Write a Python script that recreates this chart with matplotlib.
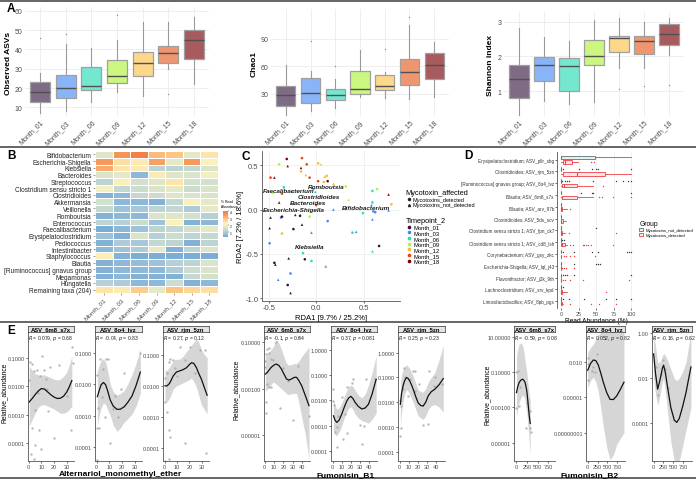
import numpy as np
import matplotlib
matplotlib.use("Agg")
import matplotlib.pyplot as plt
from matplotlib.colors import LinearSegmentedColormap
from matplotlib.lines import Line2D
from matplotlib.patches import Patch

plt.rcParams['font.family'] = ['Liberation Sans', 'DejaVu Sans']
plt.rcParams['axes.unicode_minus'] = False

W, H = 696, 481
TICK_C = '#4d4d4d'

months = ['Month_01', 'Month_03', 'Month_06', 'Month_09', 'Month_12', 'Month_15', 'Month_18']
box_colors = ['#7e6b84', '#8ab4f8', '#74e8cf', '#cbf680', '#fdd78a', '#ee9670', '#a85b5e']
pt_colors = ['#30123b', '#4686fb', '#1ae4b6', '#a2fc3c', '#faba39', '#e4460a', '#7a0403']

# ---- A: alpha diversity box stats ----
obs_lo = [7, 8, 13, 18, 16, 30, 22]
obs_q1 = [13, 15, 19, 22.5, 26.5, 33, 35]
obs_med = [18, 20, 21, 26, 33, 38, 45]
obs_q3 = [23, 27, 31, 34.5, 38.5, 42, 50]
obs_hi = [28, 43, 41, 45, 54, 54, 57]
obs_out = [[46], [48], [], [58], [], [17], []]

chao_lo = [7.5, 11, 15, 27, 25.6, 24, 27]
chao_q1 = [17, 20, 23, 30, 34, 40, 46]
chao_med = [28.5, 31, 28.5, 35.5, 38.5, 54, 61]
chao_q3 = [39, 47, 35, 55, 50, 67.5, 74]
chao_hi = [61, 55, 46, 78, 54, 105, 86]
chao_out = [[], [87], [60], [], [78.5], [113], []]

shan_lo = [0.3, 0.72, 0.62, 0.67, 1.67, 1.67, 2.05]
shan_q1 = [0.81, 1.28, 1.0, 1.76, 2.12, 2.08, 2.34]
shan_med = [1.35, 1.76, 1.71, 2.02, 2.52, 2.43, 2.65]
shan_q3 = [1.76, 1.98, 1.96, 2.48, 2.6, 2.58, 2.92]
shan_hi = [2.82, 2.55, 2.45, 3.05, 3.12, 3.0, 3.1]
shan_out = [[], [], [], [], [1.05], [1.15], [1.17]]

# ---- B: heatmap (colour level, log-like % read abundance) ----
taxa = ['Bifidobacterium', 'Escherichia-Shigella', 'Klebsiella', 'Bacteroides', 'Streptococcus',
        'Clostridium sensu stricto 1', 'Clostridioides', 'Akkermansia', 'Veillonella', 'Romboutsia',
        'Enterococcus', 'Faecalibacterium', 'Erysipelatoclostridium', 'Pediococcus', 'Intestinibacter',
        'Staphylococcus', 'Blautia', '[Ruminococcus] gnavus group', 'Megamonas', 'Hungatella',
        'Remaining taxa (204)']
heat = [
    [1.7, 3.5, 3.9, 3.0, 2.9, 1.8, 2.4],
    [3.4, 2.5, 2.3, 3.3, 1.8, 3.4, 2.1],
    [3.2, 2.4, 2.3, 1.2, 1.2, 1.3, 1.6],
    [1.6, 1.8, 0.6, 2.3, 1.7, 1.6, 2.0],
    [1.2, 2.2, 1.5, 1.7, 2.4, 1.5, 1.5],
    [2.0, 1.3, 1.4, 1.6, 1.8, 1.4, 1.6],
    [0.5, 0.6, 1.3, 1.4, 1.7, 1.6, 1.6],
    [1.5, 0.6, 0.6, 0.5, 1.3, 2.1, 1.8],
    [1.3, 0.8, 0.9, 1.2, 1.3, 1.0, 1.8],
    [0.5, 0.6, 0.6, 1.6, 1.7, 1.5, 1.1],
    [1.2, 1.1, 1.4, 0.8, 2.1, 0.5, 0.6],
    [0.4, 0.6, 0.8, 1.2, 1.3, 1.5, 1.8],
    [0.8, 0.5, 1.6, 1.1, 1.4, 1.2, 1.3],
    [0.5, 1.0, 0.9, 1.3, 1.2, 0.5, 1.2],
    [0.6, 0.8, 1.0, 1.8, 0.5, 1.2, 1.6],
    [2.2, 0.5, 0.4, 0.4, 0.4, 0.4, 0.4],
    [0.5, 0.6, 0.7, 0.8, 1.1, 1.2, 1.6],
    [0.5, 0.6, 0.6, 0.6, 1.0, 1.4, 1.6],
    [0.5, 0.6, 0.5, 0.5, 0.5, 1.3, 1.5],
    [1.1, 1.0, 0.6, 0.6, 1.4, 0.5, 0.6],
    [2.4, 2.3, 2.8, 1.8, 2.9, 2.6, 2.5],
]

# ---- C: RDA ordination ----
rda1 = [-0.39, -0.31, -0.30, -0.15, -0.10, -0.16, -0.16, -0.11, -0.07, 0.02, 0.05, -0.48, -0.44, -0.34,
        -0.36, -0.46, 0.02, 0.12, 0.09, 0.11, 0.08, 0.18, -0.03, -0.01, 0.05, 0.00, -0.39, 0.31, 0.34,
        0.59, 0.64, 0.76, 0.79, 0.76, 0.59, 0.58, 0.60, 0.49, 0.59, 0.62, 0.18, 0.12, -0.48, -0.37,
        -0.36, -0.49, -0.24, -0.15, -0.07, -0.17, -0.22, -0.36, -0.05, 0.38, 0.42, 0.66, -0.49, 0.59,
        -0.14, -0.29, -0.12, -0.05, 0.10, -0.44, -0.43, -0.27, -0.40, -0.30, -0.27, -0.25]
rda2 = [0.51, 0.57, 0.49, 0.58, 0.51, 0.47, 0.43, 0.39, 0.36, 0.52, 0.51, 0.36, 0.36, 0.25, 0.18, 0.19,
        0.32, 0.32, 0.37, 0.38, 0.31, 0.29, 0.23, 0.20, 0.15, 0.05, 0.08, 0.26, 0.11, 0.21, 0.23, 0.17,
        0.06, -0.01, 0.08, 0.05, -0.02, -0.04, -0.11, -0.03, 0.00, -0.13, -0.09, -0.09, -0.08, -0.21,
        -0.22, -0.17, -0.08, -0.07, -0.06, -0.27, -0.26, -0.26, -0.25, -0.41, -0.38, -0.47, -0.49,
        -0.55, -0.56, -0.58, -0.64, -0.60, -0.62, -0.72, -0.79, -0.85, -0.94, 0.20]
rda_month = [3, 6, 6, 5, 5, 6, 4, 4, 5, 4, 3, 5, 6, 2, 5, 3, 5, 6, 4, 4, 4, 4, 2, 2, 4, 5, 6, 3, 3,
             2, 3, 6, 4, 1, 2, 1, 1, 2, 1, 1, 1, 1, 0, 1, 0, 0, 0, 0, 3, 0, 0, 4, 1, 2, 1, 0, 1, 2,
             2, 0, 0, 2, 1, 0, 0, 1, 1, 0, 0, 2]
rda_detected = [1, 1, 0, 1, 1, 0, 1, 0, 1, 1, 0, 1, 0, 1, 1, 0, 1, 1, 0, 1, 1, 0, 1, 0, 1, 1, 0, 1, 0,
                1, 1, 0, 1, 0, 1, 0, 1, 1, 0, 1, 0, 1, 0, 1, 1, 0, 1, 0, 1, 1, 0, 1, 0, 1, 0, 1, 1, 0,
                1, 0, 1, 1, 0, 1, 0, 1, 0, 1, 0, 1]
genus_lab = ['Faecalibacterium', 'Romboutsia', 'Clostridioides', 'Bacteroides', 'Escherichia-Shigella',
             'Bifidobacterium', 'Klebsiella']
genus_x = [-0.56, -0.09, -0.20, -0.28, -0.56, 0.27, -0.22]
genus_y = [0.22, 0.255, 0.145, 0.085, 0.0, 0.02, -0.42]

# ---- D: read abundance per ASV ----
asv_labels = ['Erysipelatoclostridium; ASV_pllr_sbg', 'Clostridioides; ASV_rjm_5zn',
              '[Ruminococcus] gnavus group; ASV_8o4_lvz', 'Blautia; ASV_6m8_s7x', 'Blautia; ASV_arv_97b',
              'Clostridioides; ASV_5ds_scv', 'Clostridium sensu stricto 1; ASV_fpn_ck7',
              'Clostridium sensu stricto 1; ASV_cd8_lsh', 'Corynebacterium; ASV_gsy_zkc',
              'Escherichia-Shigella; ASV_lql_j43', 'Flavonifractor; ASV_j2k_9th',
              'Lachnoclostridium; ASV_srv_kpd', 'Limosilactobacillus; ASV_8pb_pgs']
nd_q1 = [0, 0, 0, 0, 0, 0, 0, 0, 0, 0, 0, 0, 0]
nd_med = [0.5, 0, 0, 0, 0, 0, 0, 0, 0, 0, 0, 0, 0]
nd_q3 = [48, 0, 0, 0, 0, 0, 0, 0, 0, 0, 0, 0, 0]
nd_hi = [100, 0, 0, 0, 0, 0, 0, 0, 0, 0, 0, 0, 0]
nd_out = [[], [3, 25, 44, 50, 52, 100], [2, 5, 8, 12, 45, 78, 88, 95, 100], [28, 44, 45, 100], [], [],
          [50], [2, 4], [3, 19, 44, 53, 93, 96, 99], [19, 50, 53, 55], [3, 5, 8, 19, 100], [3],
          [3, 12, 33, 64, 78, 99]]
det_q1 = [3, 3, 1, 1, 0, 0, 0, 0, 0, 0, 0, 0, 0]
det_med = [6, 23, 4, 2, 0.5, 0.5, 0, 1, 0, 0, 0, 0, 0]
det_q3 = [16, 62, 22, 22, 1, 3, 1, 5, 0, 0, 0, 1, 2]
det_hi = [24, 100, 45, 45, 9, 7, 5, 9, 0, 0, 0, 8, 3]
det_out = [[42, 47], [], [60], [54, 58, 74, 100], [13], [], [12, 78], [13, 17, 31, 33, 36, 39, 42, 74],
           [4, 7, 13, 19, 48], [2, 4, 7, 19], [3, 6, 13, 31, 96], [64], [13, 42, 54, 78]]

# ---- E: correlations (y stored as log10 relative abundance) ----
e_asv = ['ASV_6m8_s7x', 'ASV_8o4_lvz', 'ASV_rjm_5zn'] * 3
e_r = ['0.079', '-0.04', '0.27', '-0.1', '0.37', '0.25', '-0.59', '0.052', '-0.16']
e_p = ['0.68', '0.83', '0.12', '0.64', '0.081', '0.23', '0.08', '0.82', '0.62']
e_toxin = ['Alternariol_monomethyl_ether', 'Fumonisin_B1', 'Fumonisin_B2']

e1_px = [1.3, 2.6, 3.9, 6.5, 10.4, 11.7, 9.1, 13.8, 17, 14.3, 7, 4.7, 2.6, 7.8, 5.2, 1.8, 3.9, 15.6, 9.6, 20.3, 30, 33.1, 33.9, 35, 24.2, 0]
e1_py = [-1.16, -1.2, -1.45, -1.44, -0.95, -1.42, -1.65, -1.74, -1.33, -2.11, -2.23, -2.82, -3.46, -3.54, -4.05, -4.4, -4.57, -2.88, -4.22, -3.82, -2.35, -3.54, -0.63, -1.19, -1.25, -1.77]
e1_fx = [0.5, 3, 5, 7.5, 10, 12.5, 15, 17.5, 20, 22.5, 25, 27.5, 30, 32, 34]
e1_fy = [-2.55, -2.42, -2.3, -2.17, -2.08, -2.1, -2.2, -2.3, -2.38, -2.43, -2.42, -2.35, -2.2, -2.02, -1.8]
e1_up = [-1.3, -1.45, -1.55, -1.6, -1.6, -1.6, -1.65, -1.7, -1.75, -1.78, -1.75, -1.65, -1.5, -1.25, -0.95]
e1_dn = [-3.4, -3.15, -2.95, -2.75, -2.65, -2.65, -2.7, -2.75, -2.8, -2.88, -2.95, -2.95, -2.9, -2.82, -2.7]

e2_px = [0.5, 2.9, 5.3, 7.4, 9.2, 4, 1.4, 0.1, 2, 0.5, 6.6, 10.6, 14.6, 16.4, 19, 21.7, 34.4, 13.2]
e2_py = [-1.7, -1.2, -1.53, -1.21, -1.21, -2.4, -2.75, -3.38, -3.4, -4.4, -3.06, -3.88, -2.38, -3.03, -2.16, -1.66, -1.03, -2.8]
e2_fx = [0.5, 2, 3.5, 5.3, 7, 8.5, 10.6, 13, 15.9, 18.5, 21.7, 24.5, 27.8, 31, 34.4]
e2_fy = [-2.4, -2.2, -2.02, -1.95, -2.02, -2.2, -2.5, -2.7, -2.8, -2.8, -2.72, -2.58, -2.38, -2.05, -1.62]
e2_up = [-1.6, -1.4, -1.25, -1.2, -1.3, -1.55, -2.0, -2.25, -2.35, -2.3, -2.2, -2.0, -1.7, -1.35, -0.9]
e2_dn = [-3.3, -3.0, -2.75, -2.6, -2.65, -2.8, -3.0, -3.3, -3.5, -3.4, -3.2, -3.1, -2.95, -2.7, -2.3]

e3_px = [0, 1.9, 3.2, 4.4, 7, 8.4, 9.7, 12.3, 16.3, 20.3, 24.3, 28.3, 32.3, 0.5, 1.9, 3.2, 4, 0.5, 3.2, 16.3, 33.6]
e3_py = [-1.74, -1.6, -1.24, -1.13, -1.19, -1.42, -1.68, -0.77, -1.19, -0.77, -1.6, -0.86, -0.86, -2.5, -2.82, -3.4, -3.62, -4.4, -4.35, -3.82, -4.15]
e3_fx = [0.3, 2, 4, 7, 9.5, 12.3, 15, 17.7, 20, 21.7, 23.5, 25.7, 27.5, 29.7, 32, 34.3]
e3_fy = [-2.0, -2.0, -1.92, -1.68, -1.56, -1.52, -1.48, -1.42, -1.32, -1.26, -1.28, -1.42, -1.6, -1.79, -2.05, -2.3]
e3_up = [-1.5, -1.5, -1.4, -1.2, -1.15, -1.15, -1.05, -0.9, -0.8, -0.7, -0.6, -0.5, -0.6, -0.85, -1.0, -1.1]
e3_dn = [-2.5, -2.5, -2.4, -2.1, -2.0, -1.95, -1.9, -1.85, -1.8, -1.75, -1.85, -2.05, -2.3, -2.6, -2.75, -2.9]

e4_px = [0.8, 1.4, 2.3, 4.1, 4.1, 6.5, 9.1, 12.7, 0.8, 2.3, 4.1, 6.5, 1.4, 1.4, 17, 19.2, 25.4, 30.8, 36.2, 37.3, 47.8]
e4_py = [-1.79, -1.5, -1.3, -1.22, -1.44, -1.73, -1.76, -1.0, -2.07, -2.79, -2.93, -2.93, -3.58, -4.03, -3.83, -2.1, -2.67, -4.34, -2.03, -0.78, -4.17]
e4_fx = [0.7, 3, 5, 7, 9.1, 11, 12.7, 15.5, 18.1, 21, 23.5, 26, 29, 32, 34.4, 37, 39.9, 44, 47.8]
e4_fy = [-2.36, -2.28, -2.17, -2.07, -2.0, -1.95, -1.93, -2.0, -2.15, -2.38, -2.57, -2.62, -2.57, -2.5, -2.5, -2.65, -2.86, -3.3, -3.72]
e4_up = [-1.6, -1.5, -1.4, -1.3, -1.2, -1.0, -0.9, -1.05, -1.3, -1.65, -1.9, -1.98, -1.95, -1.9, -1.9, -1.8, -1.6, -1.4, -1.2]
e4_dn = [-3.1, -3.0, -2.9, -2.8, -2.7, -2.75, -2.8, -2.9, -3.0, -3.1, -3.2, -3.25, -3.2, -3.2, -3.2, -3.6, -4.2, -5.0, -6.0]

e5_px = [0, 0.8, 1.4, 2.5, 4.4, 5.1, 6.2, 9.9, 11.7, 13.5, 16.1, 15.4, 20.9, 22.7, 30, 31.8, 34.7, 36.6, 46.5]
e5_py = [-1.53, -2.01, -2.2, -3.27, -3.07, -3.86, -2.61, -1.88, -3.53, -2.54, -3.29, -1.46, -1.32, -1.16, -2.98, -3.73, -3.0, -1.16, -1.16]
e5_fx = [0.8, 2.5, 4.4, 7, 9.9, 12.5, 15.4, 17.5, 19.8, 22, 24.5, 28, 31.8, 35.5, 39.1, 43, 47.5]
e5_fy = [-2.61, -2.78, -2.87, -2.78, -2.54, -2.28, -2.02, -1.9, -1.84, -1.92, -2.08, -2.24, -2.34, -2.3, -2.15, -1.75, -1.16]
e5_up = [-2.0, -2.2, -2.35, -2.3, -2.1, -1.85, -1.6, -1.45, -1.4, -1.45, -1.6, -1.8, -1.9, -1.75, -1.4, -0.9, -0.24]
e5_dn = [-3.2, -3.35, -3.4, -3.25, -3.0, -2.7, -2.45, -2.3, -2.25, -2.35, -2.55, -2.7, -2.8, -2.85, -2.9, -2.75, -2.5]

e6_px = [0, 1, 1.8, 0.7, 3.6, 4.4, 5.5, 9.2, 11, 14.7, 16.5, 16.5, 21.2, 24.9, 31.1, 32.2, 37.4, 45.8, 38.1]
e6_py = [-1.9, -2.15, -3.05, -3.38, -1.48, -0.61, -0.97, -1.75, -1.08, -0.75, -0.75, -1.56, -1.29, -2.91, -2.88, -0.75, -1.36, -1.29, -0.99]
e6_fx = [0.7, 2, 3.6, 5.5, 7.3, 9, 11, 12.8, 14.7, 17.5, 20.1, 23, 25.6, 28.5, 31.1, 34.5, 38.4, 43, 47.6]
e6_fy = [-2.09, -1.65, -1.35, -1.12, -1.01, -1.04, -1.15, -1.3, -1.48, -1.78, -2.03, -2.14, -2.16, -2.0, -1.75, -1.58, -1.48, -1.3, -1.05]
e6_up = [-1.2, -0.9, -0.7, -0.57, -0.5, -0.55, -0.65, -0.8, -0.95, -1.25, -1.5, -1.58, -1.6, -1.45, -1.2, -1.0, -0.8, -0.3, 0.3]
e6_dn = [-3.0, -2.4, -2.0, -1.65, -1.5, -1.55, -1.7, -1.85, -2.0, -2.3, -2.55, -2.65, -2.7, -2.55, -2.3, -2.15, -2.1, -2.2, -2.4]

e7_px = [0, 40, 82, 65, 0, 245, 310, 229, 327, 343]
e7_py = [-1.0, -0.94, -1.87, -2.93, -3.03, -2.74, -3.22, -4.19, -4.19, -4.39]
e7_fx = [0, 30, 65, 105, 147, 180, 204, 225, 245, 265, 286, 305, 327]
e7_fy = [-2.16, -1.82, -1.58, -1.45, -1.4, -1.48, -1.58, -1.8, -2.06, -2.5, -3.03, -3.5, -3.9]
e7_up = [-0.1, 0.3, 0.6, 0.65, 0.5, 0.1, -0.4, -0.7, -1.0, -1.45, -1.9, -2.3, -2.6]
e7_dn = [-3.5, -3.1, -2.7, -2.45, -2.3, -2.4, -2.6, -2.95, -3.3, -3.8, -4.4, -5.0, -5.7]

e8_px = [0, 17, 101, 142, 227, 17, 185]
e8_py = [-1.67, -3.54, -2.75, -2.46, -1.3, -2.17, -2.9]
e8_fx = [0, 70, 142, 205, 269, 330, 395, 480, 564, 650, 733, 825, 918]
e8_fy = [-2.72, -2.15, -1.85, -1.9, -2.28, -2.95, -3.73, -4.6, -5.18, -5.2, -4.9, -4.35, -3.73]
e8_up = [-1.2, -0.8, -0.5, -0.1, 0.3, 0.5, 0.5, 0.5, 0.5, 0.5, 0.5, 0.5, 0.5]
e8_dn = [-4.2, -3.6, -3.3, -3.7, -4.5, -5.9, -7.5, -9.2, -10.3, -9.9, -9.0, -8.5, -8.0]

e9_px = [51, 110, 187, 229, 289, 357]
e9_py = [-1.52, -2.73, -1.82, -1.21, -1.59, -2.42]
e9_fx = [0, 50, 102, 145, 187, 225, 255, 300, 357, 440, 527, 590, 654, 740, 824, 890, 952]
e9_fy = [-0.92, -1.8, -2.48, -2.2, -1.88, -1.55, -1.42, -1.75, -2.41, -3.3, -3.85, -3.95, -3.78, -3.25, -2.65, -2.05, -1.5]
e9_up = [0.05, -0.6, -1.3, -1.3, -1.2, -1.0, -0.9, -1.0, -1.2, -1.6, -2.0, -2.1, -2.0, -1.7, -1.3, -0.6, 0.05]
e9_dn = [-2.0, -2.7, -3.2, -2.9, -2.5, -2.15, -2.0, -2.6, -3.5, -4.8, -5.66, -5.66, -5.66, -5.0, -4.3, -3.8, -3.3]


def rect(x0, y0, x1, y1):
    return [x0 / W, 1 - y1 / H, (x1 - x0) / W, (y1 - y0) / H]


def ftext(x, y, s, **kw):
    fig.text(x / W, 1 - y / H, s, **kw)


def alpha_box(ax, lo, q1, med, q3, hi, out, ylim, yticks, ylabel):
    stats = []
    for i in range(len(months)):
        stats.append(dict(whislo=lo[i], q1=q1[i], med=med[i], q3=q3[i], whishi=hi[i], fliers=out[i]))
    bp = ax.bxp(stats, positions=range(7), widths=0.78, patch_artist=True, showcaps=False,
                boxprops=dict(edgecolor='#a0a0a0', linewidth=0.9),
                whiskerprops=dict(color='#9a9a9a', linewidth=0.8),
                medianprops=dict(color='#505050', linewidth=1.0),
                flierprops=dict(marker='o', markersize=1.0, markerfacecolor='#8a8a8a', markeredgecolor='none'))
    for patch, c in zip(bp['boxes'], box_colors):
        patch.set_facecolor(c)
    ax.set_xlim(-0.6, 6.6)
    ax.set_ylim(*ylim)
    ax.set_yticks(yticks)
    ax.set_xticks(range(7))
    ax.set_xticklabels(months, rotation=45, ha='right', rotation_mode='anchor', fontsize=5, color=TICK_C)
    ax.tick_params(axis='y', labelsize=5, labelcolor=TICK_C, length=0, pad=2)
    ax.tick_params(axis='x', length=0, pad=1)
    ax.set_ylabel(ylabel, fontsize=6, fontweight='bold', labelpad=2)
    ax.grid(True, color='#ebebeb', linewidth=0.6)
    ax.set_axisbelow(True)
    for s in ax.spines.values():
        s.set_visible(False)


fig = plt.figure(figsize=(W / 100, H / 100), dpi=100)

# ---------------- A ----------------
axA1 = fig.add_axes(rect(25, 8, 209, 118))
alpha_box(axA1, obs_lo, obs_q1, obs_med, obs_q3, obs_hi, obs_out, (5, 62), [10, 20, 30, 40, 50, 60], 'Observed ASVs')
axA2 = fig.add_axes(rect(271, 10, 449, 118))
alpha_box(axA2, chao_lo, chao_q1, chao_med, chao_q3, chao_hi, chao_out, (5, 122), [30, 60, 90], 'Chao1')
axA3 = fig.add_axes(rect(504, 13, 684, 118))
alpha_box(axA3, shan_lo, shan_q1, shan_med, shan_q3, shan_hi, shan_out, (0.25, 3.28), [1, 2, 3], 'Shannon index')

# ---------------- B ----------------
heat_cmap = LinearSegmentedColormap.from_list('heat', ['#74a9d4', '#a9c8da', '#d5e2cb', '#fcf3bd',
                                                       '#fcd08f', '#f59a5e', '#f07d43'])
axB = fig.add_axes(rect(95, 152, 218, 294))
mesh = axB.pcolormesh(np.array(heat), cmap=heat_cmap, vmin=0.3, vmax=4.0, edgecolors='white', linewidth=0.4)
axB.set_xlim(0, 7)
axB.set_ylim(len(taxa), 0)
axB.set_yticks(np.arange(len(taxa)) + 0.5)
axB.set_yticklabels(taxa, fontsize=4.7, color='#222222')
axB.set_xticks(np.arange(7) + 0.5)
axB.set_xticklabels(months, rotation=45, ha='right', rotation_mode='anchor', fontsize=4.6, color=TICK_C)
axB.tick_params(length=1.5, width=0.4, pad=1, color='#555555')
for s in axB.spines.values():
    s.set_visible(False)
cax = fig.add_axes(rect(223, 212, 228, 238))
cb = fig.colorbar(mesh, cax=cax)
cb.outline.set_visible(False)
cb.set_ticks([1, 2, 3, 4])
cb.set_ticklabels(['1', '2', '3', '4'])
cax.tick_params(labelsize=2.3, length=0.8, width=0.3, pad=0.3)
ftext(221, 209, '% Read\nAbundance', fontsize=2.4, va='bottom')

# ---------------- C ----------------
axC = fig.add_axes(rect(262, 152, 400, 302))
rda1 = np.array(rda1)
rda2 = np.array(rda2)
rda_month = np.array(rda_month)
rda_detected = np.array(rda_detected)
for flag, mk in [(1, 'o'), (0, '^')]:
    sel = rda_detected == flag
    axC.scatter(rda1[sel], rda2[sel], c=[pt_colors[m] for m in rda_month[sel]], s=3.5, marker=mk,
                linewidths=0, zorder=3)
for name, gx, gy in zip(genus_lab, genus_x, genus_y):
    axC.text(gx, gy, name, fontsize=4.6, fontweight='bold', fontstyle='italic', va='center', ha='left',
             color='#1a1a1a', zorder=4)
axC.set_xlim(-0.57, 0.88)
axC.set_ylim(-1.03, 0.66)
axC.set_xticks([-0.5, 0.0, 0.5])
axC.set_yticks([-1.0, -0.5, 0.0, 0.5])
axC.tick_params(labelsize=5.5, labelcolor=TICK_C, length=1.5, width=0.4, pad=1)
axC.set_xlabel('RDA1 [9.7% / 25.2%]', fontsize=5.5, labelpad=1.5)
axC.set_ylabel('RDA2 [7.2% / 18.6%]', fontsize=5.5, labelpad=1)
axC.grid(True, color='#ececec', linewidth=0.5)
axC.set_axisbelow(True)
axC.spines['top'].set_visible(False)
axC.spines['right'].set_visible(False)
for s in ['left', 'bottom']:
    axC.spines[s].set_color('#555555')
    axC.spines[s].set_linewidth(0.6)

myco_handles = [Line2D([], [], marker='o', linestyle='none', color='#222222', markersize=1.5),
                Line2D([], [], marker='^', linestyle='none', color='#222222', markersize=1.5)]
fig.legend(myco_handles, ['Mycotoxins_detected', 'Mycotoxins_not_detected'], title='Mycotoxin_affected',
           loc='upper left', bbox_to_anchor=(403 / W, 1 - 187 / H), frameon=False, fontsize=4.0,
           title_fontsize=5.3, labelspacing=0.15, handletextpad=0.3, borderpad=0, handlelength=1.0,
           alignment='left')
time_handles = [Line2D([], [], marker='o', linestyle='none', color=c, markersize=1.6) for c in pt_colors]
fig.legend(time_handles, months, title='Timepoint_2', loc='upper left',
           bbox_to_anchor=(403 / W, 1 - 215 / H), frameon=False, fontsize=4.2, title_fontsize=5.3,
           labelspacing=0.1, handletextpad=0.3, borderpad=0, handlelength=1.0, alignment='left')

# ---------------- D ----------------
axD = fig.add_axes(rect(557, 153, 635, 309))
pos = np.arange(1, len(asv_labels) + 1)
nd_stats, det_stats = [], []
for i in range(len(asv_labels)):
    nd_stats.append(dict(whislo=0, q1=nd_q1[i], med=nd_med[i], q3=nd_q3[i], whishi=nd_hi[i], fliers=nd_out[i]))
    det_stats.append(dict(whislo=0, q1=det_q1[i], med=det_med[i], q3=det_q3[i], whishi=det_hi[i], fliers=det_out[i]))
nd_col, det_col = '#5b7676', '#ef3f45'
axD.bxp(nd_stats, positions=pos - 0.2, widths=0.3, orientation='horizontal', patch_artist=True,
        showcaps=False, boxprops=dict(facecolor='#e9eeee', edgecolor=nd_col, linewidth=0.6),
        whiskerprops=dict(color=nd_col, linewidth=0.6), medianprops=dict(color=nd_col, linewidth=0.8),
        flierprops=dict(marker='o', markersize=1.0, markerfacecolor='#2f3b3b', markeredgecolor='none'))
axD.bxp(det_stats, positions=pos + 0.2, widths=0.3, orientation='horizontal', patch_artist=True,
        showcaps=False, boxprops=dict(facecolor='#fde8e8', edgecolor=det_col, linewidth=0.6),
        whiskerprops=dict(color=det_col, linewidth=0.6), medianprops=dict(color=det_col, linewidth=0.8),
        flierprops=dict(marker='o', markersize=1.0, markerfacecolor=det_col, markeredgecolor='none'))
axD.set_ylim(13.57, 0.35)
axD.set_xlim(-5.7, 105)
axD.set_yticks(pos)
axD.set_yticklabels(asv_labels, fontsize=3.3, color='#333333')
axD.set_xticks([0, 25, 50, 75, 100])
axD.set_xticklabels(['0', '25', '50', '75', '100'])
axD.tick_params(axis='x', labelsize=4.0, labelcolor=TICK_C, length=1.2, width=0.4, pad=1)
axD.tick_params(axis='y', length=1.2, width=0.4, pad=1)
axD.set_xlabel('Read Abundance (%)', fontsize=4.8, labelpad=1)
axD.grid(True, axis='x', color='#ebebeb', linewidth=0.5)
axD.set_axisbelow(True)
for s in ['top', 'right', 'bottom']:
    axD.spines[s].set_visible(False)
axD.spines['left'].set_color('#555555')
axD.spines['left'].set_linewidth(0.6)
grp_handles = [Patch(facecolor='#e9eeee', edgecolor=nd_col, linewidth=0.6),
               Patch(facecolor='#fde8e8', edgecolor=det_col, linewidth=0.6)]
fig.legend(grp_handles, ['Mycotoxins_not_detected', 'Mycotoxins_detected'], title='Group', loc='upper left',
           bbox_to_anchor=(637 / W, 1 - 219 / H), frameon=False, fontsize=3.1, title_fontsize=4.8,
           labelspacing=0.2, handletextpad=0.4, borderpad=0, handlelength=1.0, handleheight=0.8,
           alignment='left')

# ---------------- E ----------------
e_boxes = [(28, 74), (95, 142), (163, 209), (264, 310), (331, 377), (398, 445), (514, 555), (586, 625), (652, 692)]
e_xlim = [(-0.5, 35.7), (-1.35, 35.7), (-1.3, 35.8), (-0.8, 48.9), (-1.9, 48.4), (-1.9, 49.5),
          (-59, 916), (-43, 944), (-41, 979)]
e_xticks = [[0, 10, 20, 30]] * 3 + [[0, 10, 20, 30, 40]] * 3 + [[0, 250, 500, 750]] * 3
e_ylim = [(-4.63, -0.09), (-4.44, -0.35), (-4.4, -0.28), (-6.1, -0.55), (-4.4, 0.71), (-4.38, 0.83),
          (-6.03, 1.27), (-10.4, 0.52), (-5.66, 0.05)]
e_yticks = [[-4, -3, -2, -1], [-4, -3, -2, -1], [-4, -3, -2, -1], [-5, -3, -1], [-4, -3, -2, -1, 0],
            [-4, -3, -2, -1, 0], [-5, -3, -1, 1], [-8, -5, -2], [-4, -2, 0]]
e_ylabels = [['0.0001', '0.0010', '0.0100', '0.1000']] * 3 + [['0.00001', '0.00100', '0.10000']] + \
            [['0.0001', '0.0010', '0.0100', '0.1000', '1.0000']] * 2 + \
            [['0.00001', '0.00100', '0.10000', '10.00000'], ['0.00000001', '0.00001', '0.010'],
             ['0.0001', '0.01', '1.00']]
e_data = [(e1_px, e1_py, e1_fx, e1_fy, e1_up, e1_dn), (e2_px, e2_py, e2_fx, e2_fy, e2_up, e2_dn),
          (e3_px, e3_py, e3_fx, e3_fy, e3_up, e3_dn), (e4_px, e4_py, e4_fx, e4_fy, e4_up, e4_dn),
          (e5_px, e5_py, e5_fx, e5_fy, e5_up, e5_dn), (e6_px, e6_py, e6_fx, e6_fy, e6_up, e6_dn),
          (e7_px, e7_py, e7_fx, e7_fy, e7_up, e7_dn), (e8_px, e8_py, e8_fx, e8_fy, e8_up, e8_dn),
          (e9_px, e9_py, e9_fx, e9_fy, e9_up, e9_dn)]

for k in range(9):
    x0, x1 = e_boxes[k]
    ax = fig.add_axes(rect(x0, 333, x1, 462))
    px, py, fx, fy, up, dn = e_data[k]
    ax.set_yscale('log')
    ax.fill_between(fx, 10.0 ** np.array(dn), 10.0 ** np.array(up), color='#d6d6d6', linewidth=0, zorder=1)
    ax.scatter(px, 10.0 ** np.array(py), s=3, color='#a8a8a8', linewidths=0, alpha=0.8, zorder=2)
    ax.plot(fx, 10.0 ** np.array(fy), color='#111111', linewidth=0.9, zorder=3)
    ax.set_xlim(*e_xlim[k])
    ax.set_ylim(10.0 ** e_ylim[k][0], 10.0 ** e_ylim[k][1])
    ax.set_xticks(e_xticks[k])
    ax.set_xticklabels([str(t) for t in e_xticks[k]])
    ax.set_yticks([10.0 ** t for t in e_yticks[k]])
    ax.set_yticklabels(e_ylabels[k])
    ax.yaxis.set_minor_locator(matplotlib.ticker.NullLocator())
    ax.tick_params(labelsize=4.0, labelcolor=TICK_C, length=1.2, width=0.4, pad=1)
    for s in ['top', 'right']:
        ax.spines[s].set_visible(False)
    for s in ['left', 'bottom']:
        ax.spines[s].set_color('#555555')
        ax.spines[s].set_linewidth(0.6)
    ax.text(0.01, 0.995, r'$\it{R}$ = ' + e_r[k] + r', $\it{p}$ = ' + e_p[k], transform=ax.transAxes,
            fontsize=3.6, va='top', ha='left', color='#222222')
    sax = fig.add_axes(rect(x0, 327, x1, 333))
    sax.set_facecolor('#e3e3e3')
    sax.set_xticks([])
    sax.set_yticks([])
    for s in sax.spines.values():
        s.set_color('#333333')
        s.set_linewidth(0.5)
    sax.text(0.5, 0.45, e_asv[k], fontsize=4.2, fontweight='bold', ha='center', va='center', transform=sax.transAxes)

ftext(120, 475, e_toxin[0], fontsize=6, fontweight='bold', ha='center', va='center')
ftext(346, 476, e_toxin[1], fontsize=6, fontweight='bold', ha='center', va='center')
ftext(590, 476, e_toxin[2], fontsize=6, fontweight='bold', ha='center', va='center')
for lx, ly in [(4, 393), (236, 390), (487, 395)]:
    ftext(lx, ly, 'Relative_abundance', fontsize=4.8, rotation=90, ha='center', va='center')

# separators and panel letters
for yy in [1.5, 148, 323, 478.5]:
    fig.add_artist(Line2D([0, 1], [1 - yy / H, 1 - yy / H], transform=fig.transFigure, color='#3c3c3c', linewidth=1.1))
for letter, lx, ly in [('A', 7, 3), ('B', 7, 150), ('C', 242, 151), ('D', 464, 150), ('E', 7, 325)]:
    ftext(lx, ly, letter, fontsize=8.5, fontweight='bold', va='top', ha='left')

fig.savefig('out.png', dpi=100)
